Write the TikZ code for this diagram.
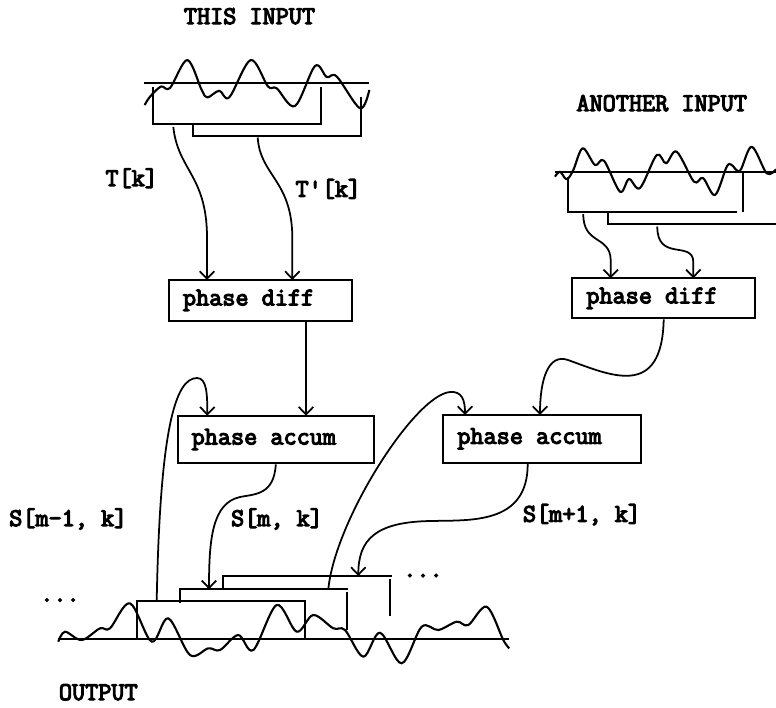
\documentclass[tikz,border=0pt]{standalone}
\usepackage{fontspec}
\newfontfamily\courfont[AutoFakeBold=4.5]{Latin Modern Mono}
\usetikzlibrary{arrows.meta}
\tikzset{
  wave/.style={line width=1.2pt, line join=round},
  frame/.style={line width=1.2pt},
  blockbox/.style={draw, line width=1.2pt, inner xsep=0.28cm, inner ysep=0pt, align=flush left},
  flowarrow/.style={-{Straight Barb[length=1.5mm,width=2.9mm]}, line width=1pt},
  lbl/.style={anchor=base, inner sep=0pt}
}

\begin{document}
\begin{tikzpicture}[x=0.02cm, y=-0.02cm, font=\courfont\bfseries\fontsize{14.5}{16}\selectfont]
  \useasboundingbox (0,0) rectangle (776,707);

  % blocks
  \node[blockbox, text width=3.094cm, minimum height=0.81cm] (pdL) at (260.3,300.3) {phase diff};
  \node[blockbox, text width=3.094cm, minimum height=0.80cm] (pdR) at (663.7,298.3) {phase diff};
  \node[blockbox, text width=3.366cm, minimum height=0.95cm] (accL) at (275.8,439.5) {phase accum};
  \node[blockbox, text width=3.386cm, minimum height=0.95cm] (accR) at (542,438.8) {phase accum};

  % texts
  \node[lbl] (thisin) at (249.5,24) {THIS INPUT};
  \node[lbl] (anotherin) at (661.7,111) {ANOTHER INPUT};
  \node[lbl] (outlbl) at (98.3,700) {OUTPUT};
  \node[lbl] (tklbl) at (131.7,186) {T[k]};
  \node[lbl] (tkplbl) at (328.3,196.7) {T'[k]};
  \node[lbl] (smm) at (68.3,526) {S[m-1, k]};
  \node[lbl] (sm) at (277,526) {S[m, k]};
  \node[lbl] (smp) at (582,521.7) {S[m+1, k]};
  \node[lbl] (dotsL) at (60,601.5) {...};
  \node[lbl] (dotsR) at (423,577) {...};

  % this input
  \draw[frame] (144,83.3) -- (369,83.3);
  \draw[wave] plot[smooth, tension=0.55] coordinates {(144.7,105) (150,96.7) (161,86.5) (170,88) (187.3,60) (201.7,90) (207.3,97.5) (219.3,90.7) (229.3,97.3) (250.7,60) (268,86.5) (276.7,88.3) (295,106) (315,66) (326.7,77) (336.7,76.5) (360,108.3) (369.3,90)};
  \draw[frame] (152.7,86.7) |- (320.7,124.3) -- (320.7,86.7);
  \draw[frame] (193.3,124.3) |- (361,136) -- (361,97);

  % another input
  \draw[frame] (555,172) -- (776,172);
  \draw[wave] plot[smooth, tension=0.55] coordinates {(555,176.7) (560,171.7) (566.7,179.3) (573.3,170) (582.7,148.3) (595,165) (604,160.7) (620,191.7) (629,179) (640,188) (656.7,155) (666,163.3) (676.7,151.7) (694,181.7) (703,178) (715,195) (726.7,166.7) (731.7,165) (740,170.7) (751.7,146.7) (766.7,173.3) (776,169.3)};
  \draw[frame] (567.7,177) |- (736.7,211.7);
  \draw[frame] (743.3,171.7) -- (743.3,211.7);
  \draw[frame] (608.3,211.7) |- (776,224);

  % output
  \draw[frame] (58.3,639.3) -- (509.3,639.3);
  \draw[wave] plot[smooth, tension=0.55] coordinates {(58.3,641.7) (65,631.7) (81.7,640) (100,628.3) (110,628.3) (130,603.3) (151.7,641.7) (168.3,618.3) (190,655) (208.3,648.3) (220,650) (238.3,635) (253.3,650) (276.7,605) (296.7,631.7) (313.3,615) (333.3,628.3) (345,630) (363.3,656.7) (380,632.7) (401.7,663.3) (421.7,626.7) (438.3,630) (456.7,621.7) (468.3,625) (486.7,606.7) (503.3,640) (509.3,648.3)};
  \draw[frame] (137.3,639.3) |- (305,600.7) -- (305,639.3);
  \draw[frame] (180,602.7) |- (348.3,589.3);
  \draw[frame] (346.7,592.3) -- (346.7,630);
  \draw[frame] (222.7,589.3) |- (391.7,576);
  \draw[frame] (390,579.3) -- (390,616);

  % connector ends
  \coordinate (tk) at (173.3,127);
  \coordinate (tkp) at (257.7,137.5);
  \coordinate (ra) at (583.3,214);
  \coordinate (rb) at (657.3,226.5);
  \coordinate (pdLa) at (207,280);
  \coordinate (pdLb) at (292.3,280);
  \coordinate (pdRa) at (610.7,278.3);
  \coordinate (pdRb) at (693.3,278.3);
  \coordinate (accLa) at (207.3,415.7);
  \coordinate (accLb) at (306,415.7);
  \coordinate (accRa) at (465,415);
  \coordinate (accRb) at (540,415);
  \coordinate (outA) at (156.7,600.7);
  \coordinate (outB) at (328.3,589.3);
  \coordinate (outC) at (209,589.3);
  \coordinate (outD) at (358.3,576);

  % connectors
  \draw[flowarrow] (tk) .. controls (178,170) and (206,175) .. (207,235) -- (pdLa);
  \draw[flowarrow] (tkp) .. controls (260,175) and (291,180) .. (292.3,235) -- (pdLb);
  \draw[flowarrow] (ra) .. controls (583,245) and (610,235) .. (610.7,260) -- (pdRa);
  \draw[flowarrow] (rb) .. controls (657,262) and (693,240) .. (693.3,262) -- (pdRb);
  \draw[flowarrow] (accLb |- pdL.south) -- (accLb);
  \draw[flowarrow] (pdR.south) .. controls (662,400) and (610,375) .. (568,360) .. controls (548,353) and (540,380) .. (accRb);
  \draw[flowarrow] (outA) .. controls (160,430) and (175,378) .. (197,378) .. controls (207,378) and (207.3,395) .. (accLa);
  \draw[flowarrow] (outB) .. controls (335,520) and (415,395) .. (450,392) .. controls (462,391) and (465,400) .. (accRa);
  \draw[flowarrow] (accL.south) .. controls (274,495) and (255,494) .. (240,497) .. controls (212,503) and (209,540) .. (outC);
  \draw[flowarrow] (accR.south -| 527.7,0) .. controls (528,525) and (470,520) .. (430,521) .. controls (375,522) and (358.3,540) .. (outD);
\end{tikzpicture}
\end{document}
